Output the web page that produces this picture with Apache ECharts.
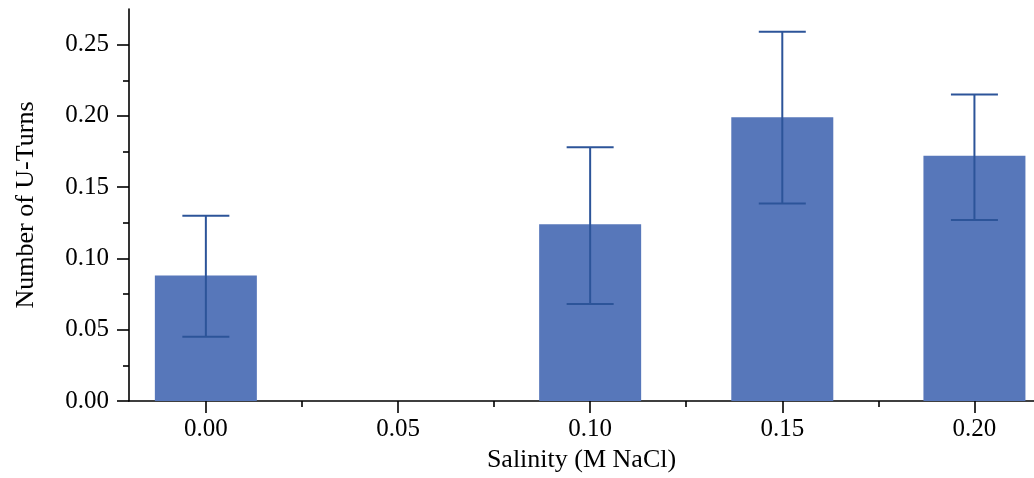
<!DOCTYPE html>
<html>
<head>
<meta charset="utf-8">
<script src="https://cdn.jsdelivr.net/npm/echarts@6/dist/echarts.min.js"></script>
<style>html,body{margin:0;padding:0;background:#fff;}#c{width:1034px;height:478px;}</style>
</head>
<body>
<div id="c"></div>
<script>
// Data
const salinity = [0.00, 0.05, 0.10, 0.15, 0.20];
const meanUTurns = [0.088, null, 0.124, 0.199, 0.172];
const errLow = [0.045, null, 0.068, 0.1385, 0.127];
const errHigh = [0.130, null, 0.178, 0.259, 0.215];
const xTicks = [0.00, 0.05, 0.10, 0.15, 0.20];
const xMinorTicks = [0.025, 0.075, 0.125, 0.175];
const yTicks = [0.00, 0.05, 0.10, 0.15, 0.20, 0.25];
const yMinorTicks = [0.025, 0.075, 0.125, 0.175, 0.225];

const font = 'Liberation Serif';
const barData = [];
const errData = [];
salinity.forEach((s, i) => {
  if (meanUTurns[i] != null) {
    barData.push([s, meanUTurns[i]]);
    errData.push([s, errLow[i], errHigh[i]]);
  }
});

const chart = echarts.init(document.getElementById('c'));
chart.setOption({
  animation: false,
  backgroundColor: '#fff',
  grid: {left: 129, right: 0, top: 9, bottom: 75, containLabel: false},
  xAxis: [{
    type: 'value', min: -0.02, max: 0.2155,
    position: 'bottom',
    name: 'Salinity (M NaCl)', nameLocation: 'middle', nameGap: 46,
    nameTextStyle: {fontFamily: font, fontSize: 26, color: '#000'},
    axisLine: {show: true, onZero: false, lineStyle: {color: '#000', width: 1.6}},
    axisTick: {show: true, customValues: xTicks, length: 12, inside: false, lineStyle: {color: '#000', width: 1.6}},
    axisLabel: {customValues: xTicks, formatter: v => v.toFixed(2), fontFamily: font, fontSize: 25, color: '#000', margin: 16},
    splitLine: {show: false}
  }, {
    type: 'value', min: -0.02, max: 0.2155,
    position: 'bottom',
    axisLine: {show: false, onZero: false},
    axisTick: {show: true, customValues: xMinorTicks, length: 6, lineStyle: {color: '#000', width: 1.6}},
    axisLabel: {show: false},
    splitLine: {show: false}
  }],
  yAxis: [{
    type: 'value', min: 0, max: 0.275,
    position: 'left',
    name: 'Number of U-Turns', nameLocation: 'middle', nameGap: 90,
    nameTextStyle: {fontFamily: font, fontSize: 26, color: '#000'},
    axisLine: {show: true, onZero: false, lineStyle: {color: '#000', width: 1.6}},
    axisTick: {show: true, customValues: yTicks, length: 12, lineStyle: {color: '#000', width: 1.6}},
    axisLabel: {customValues: yTicks, formatter: v => v.toFixed(2), fontFamily: font, fontSize: 25, color: '#000', margin: 20},
    splitLine: {show: false}
  }, {
    type: 'value', min: 0, max: 0.275,
    position: 'left',
    axisLine: {show: false, onZero: false},
    axisTick: {show: true, customValues: yMinorTicks, length: 6, lineStyle: {color: '#000', width: 1.6}},
    axisLabel: {show: false},
    splitLine: {show: false}
  }],
  series: [{
    type: 'bar',
    xAxisIndex: 0, yAxisIndex: 0,
    barWidth: 102,
    data: barData,
    itemStyle: {color: '#5777BA'},
    z: 2
  }, {
    type: 'custom',
    xAxisIndex: 0, yAxisIndex: 0,
    data: errData,
    z: 3,
    renderItem: function (params, api) {
      const x = api.value(0);
      const lo = api.coord([x, api.value(1)]);
      const hi = api.coord([x, api.value(2)]);
      const hw = 23.5;
      const style = {stroke: '#2C5499', lineWidth: 2};
      return {
        type: 'group',
        children: [
          {type: 'line', shape: {x1: hi[0], y1: hi[1], x2: lo[0], y2: lo[1]}, style: style},
          {type: 'line', shape: {x1: hi[0] - hw, y1: hi[1], x2: hi[0] + hw, y2: hi[1]}, style: style},
          {type: 'line', shape: {x1: lo[0] - hw, y1: lo[1], x2: lo[0] + hw, y2: lo[1]}, style: style}
        ]
      };
    }
  }]
});
</script>
</body>
</html>
